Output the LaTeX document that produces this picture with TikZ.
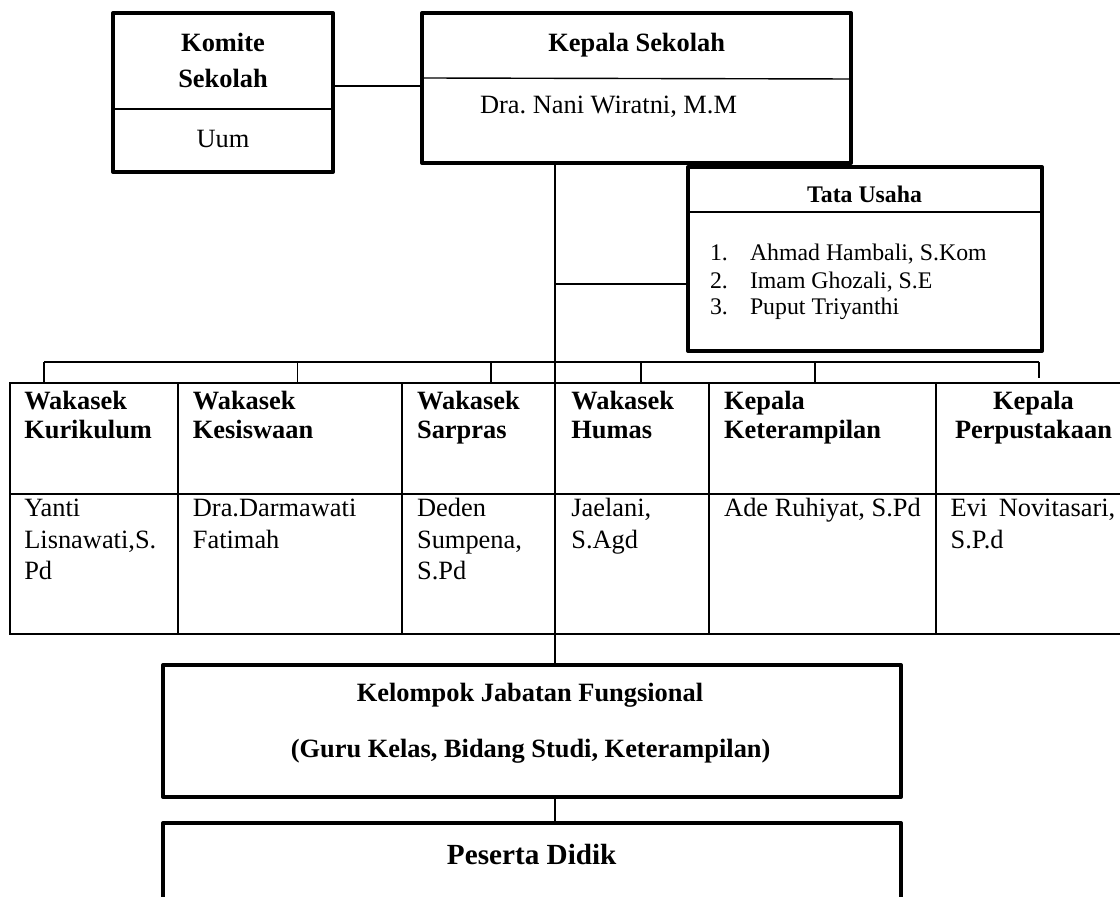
\documentclass[tikz,border=0pt]{standalone}
\usepackage{fontspec}
\setmainfont{Liberation Serif}
\frenchspacing
\begin{document}
\begin{tikzpicture}[x=0.5pt,y=-0.5pt,
  thickbox/.style={draw, line width=2pt, line join=round, inner sep=0pt, outer sep=0pt, anchor=north west},
  cell/.style={draw, line width=1pt, inner sep=0pt, outer sep=0pt, anchor=north west},
  conn/.style={line width=0.7pt},
  txt/.style={inner sep=0pt, outer sep=0pt, font=\fontsize{13.2}{14.5}\selectfont},
  btxt/.style={txt, font=\fontsize{13.2}{14.5}\selectfont\bfseries},
  stxt/.style={inner sep=0pt, outer sep=0pt, font=\fontsize{11.9}{13.5}\selectfont},
  sbtxt/.style={stxt, font=\fontsize{11.9}{13.5}\selectfont\bfseries},
  ctr/.style={anchor=base},
  lft/.style={anchor=base west}
]
\useasboundingbox (0,0) rectangle (1120,897);
\clip (0,0) rectangle (1120,897);

% ---- boxes ----
\node[thickbox, minimum width=110pt, minimum height=79.5pt] (komite) at (113,13) {};
\node[thickbox, minimum width=214.5pt, minimum height=75pt] (kepala) at (422,13) {};
\node[thickbox, minimum width=177pt, minimum height=92pt] (tata) at (688,167) {};
\node[thickbox, minimum width=369pt, minimum height=66pt] (kelompok) at (163,665) {};
\node[thickbox, minimum width=369pt, minimum height=68.5pt] (peserta) at (163,823) {};

% dividers
\draw[conn] (komite.north west) ++(0,96) -- ++(220,0);
\draw[conn] ([yshift=-32.5pt]kepala.north west) -- ([yshift=-33pt]kepala.north east);
\draw[conn] (tata.north west) ++(0,45) -- ++(354,0);

% ---- table cells ----
\node[cell, minimum width=83.75pt, minimum height=55.5pt] (h1) at (10,383) {};
\node[cell, minimum width=112.25pt, minimum height=55.5pt] (h2) at (177.5,383) {};
\node[cell, minimum width=76.5pt, minimum height=55.5pt] (h3) at (402,383) {};
\node[cell, minimum width=77pt, minimum height=55.5pt] (h4) at (555,383) {};
\node[cell, minimum width=113.5pt, minimum height=55.5pt] (h5) at (709,383) {};
\node[cell, minimum width=93pt, minimum height=55.5pt] (h6) at (936,383) {};
\node[cell, minimum width=83.75pt, minimum height=70pt] (n1) at (10,494) {};
\node[cell, minimum width=112.25pt, minimum height=70pt] (n2) at (177.5,494) {};
\node[cell, minimum width=76.5pt, minimum height=70pt] (n3) at (402,494) {};
\node[cell, minimum width=77pt, minimum height=70pt] (n4) at (555,494) {};
\node[cell, minimum width=113.5pt, minimum height=70pt] (n5) at (709,494) {};
\node[cell, minimum width=93pt, minimum height=70pt] (n6) at (936,494) {};

% ---- connectors ----
\coordinate (k86) at (0,86);
\coordinate (mx) at (555,0);
\coordinate (ty) at (0,284);
\coordinate (bus) at (0,362);
\coordinate (t1) at (44,0);
\coordinate (t2) at (297.5,0);
\coordinate (t3) at (491,0);
\coordinate (t4) at (641,0);
\coordinate (t5) at (815,0);
\coordinate (t6) at (1039,0);

\draw[conn] (komite.east |- k86) -- (kepala.west |- k86);
\draw[conn] (mx |- kepala.south) -- (mx |- kelompok.north);
\draw[conn] (mx |- ty) -- (tata.west |- ty);
\draw[conn] (bus -| t1) -- (bus -| t6);
\draw[conn] (bus -| t1) -- (t1 |- h1.north);
\draw[conn] (bus -| t2) -- (t2 |- h2.north);
\draw[conn] (bus -| t3) -- (t3 |- h3.north);
\draw[conn] (bus -| t4) -- (t4 |- h4.north);
\draw[conn] (bus -| t5) -- (t5 |- h5.north);
\draw[conn] (bus -| t6) -- ++(0,16);
\draw[conn] (mx |- kelompok.south) -- (mx |- peserta.north);

% ---- texts ----
\node[btxt, ctr] (tkom1) at (223,51.7) {Komite};
\node[btxt, ctr] (tkom2) at (223,87.3) {Sekolah};
\node[txt, ctr] (tkom3) at (223,147.7) {Uum};

\node[btxt, ctr] (tkep1) at (636.7,51.7) {Kepala Sekolah};
\node[txt, lft] (tkep2) at (480,113.3) {Dra. Nani Wiratni, M.M};

\node[sbtxt, ctr] (ttu) at (864.6,202.7) {Tata Usaha};
\node[stxt, lft] (ttu1n) at (710,261) {1.};
\node[stxt, lft] (ttu1) at (750,261) {Ahmad Hambali, S.Kom};
\node[stxt, lft] (ttu2n) at (710,288.3) {2.};
\node[stxt, lft] (ttu2) at (750,288.3) {Imam Ghozali, S.E};
\node[stxt, lft] (ttu3n) at (710,315) {3.};
\node[stxt, lft] (ttu3) at (750,315) {Puput Triyanthi};

\node[btxt, lft] (h1a) at (24.3,409.3) {Wakasek};
\node[btxt, lft] (h1b) at (24.3,438.5) {Kurikulum};
\node[btxt, lft] (h2a) at (192.9,409.3) {Wakasek};
\node[btxt, lft] (h2b) at (192.9,438.5) {Kesiswaan};
\node[btxt, lft] (h3a) at (417.1,409.3) {Wakasek};
\node[btxt, lft] (h3b) at (417.1,438.5) {Sarpras};
\node[btxt, lft] (h4a) at (571.4,409.3) {Wakasek};
\node[btxt, lft] (h4b) at (571.4,438.5) {Humas};
\node[btxt, lft] (h5a) at (724.2,409.3) {Kepala};
\node[btxt, lft] (h5b) at (724.2,438.5) {Keterampilan};
\node[btxt, ctr] (h6a) at (1033.5,409.3) {Kepala};
\node[btxt, ctr] (h6b) at (1033.5,438.5) {Perpustakaan};

\node[txt, lft] (n1a) at (24.3,516.7) {Yanti};
\node[txt, lft] (n1b) at (24.3,548.5) {Lisnawati,S.};
\node[txt, lft] (n1c) at (24.3,580) {Pd};
\node[txt, lft] (n2a) at (192.9,516.7) {Dra.Darmawati};
\node[txt, lft] (n2b) at (192.9,548.5) {Fatimah};
\node[txt, lft] (n3a) at (417.1,516.7) {Deden};
\node[txt, lft] (n3b) at (417.1,548.5) {Sumpena,};
\node[txt, lft] (n3c) at (417.1,580) {S.Pd};
\node[txt, lft] (n4a) at (571.4,516.7) {Jaelani,};
\node[txt, lft] (n4b) at (571.4,548.5) {S.Agd};
\node[txt, lft] (n5a) at (724.2,516.7) {Ade Ruhiyat, S.Pd};
\node[txt, lft] (n6a) at (950.7,516.7) {Evi\hspace{2.4pt} Novitasari,};
\node[txt, lft] (n6b) at (950.7,548.5) {S.P.d};

\node[btxt, ctr] (tkel1) at (530,701.7) {Kelompok Jabatan Fungsional};
\node[btxt, ctr] (tkel2) at (530.6,757.7) {(Guru Kelas, Bidang Studi, Keterampilan)};
\node[inner sep=0pt, outer sep=0pt, font=\fontsize{14.6}{16}\selectfont\bfseries, ctr] (tpes) at (531.7,864.3) {Peserta Didik};
\end{tikzpicture}
\end{document}
